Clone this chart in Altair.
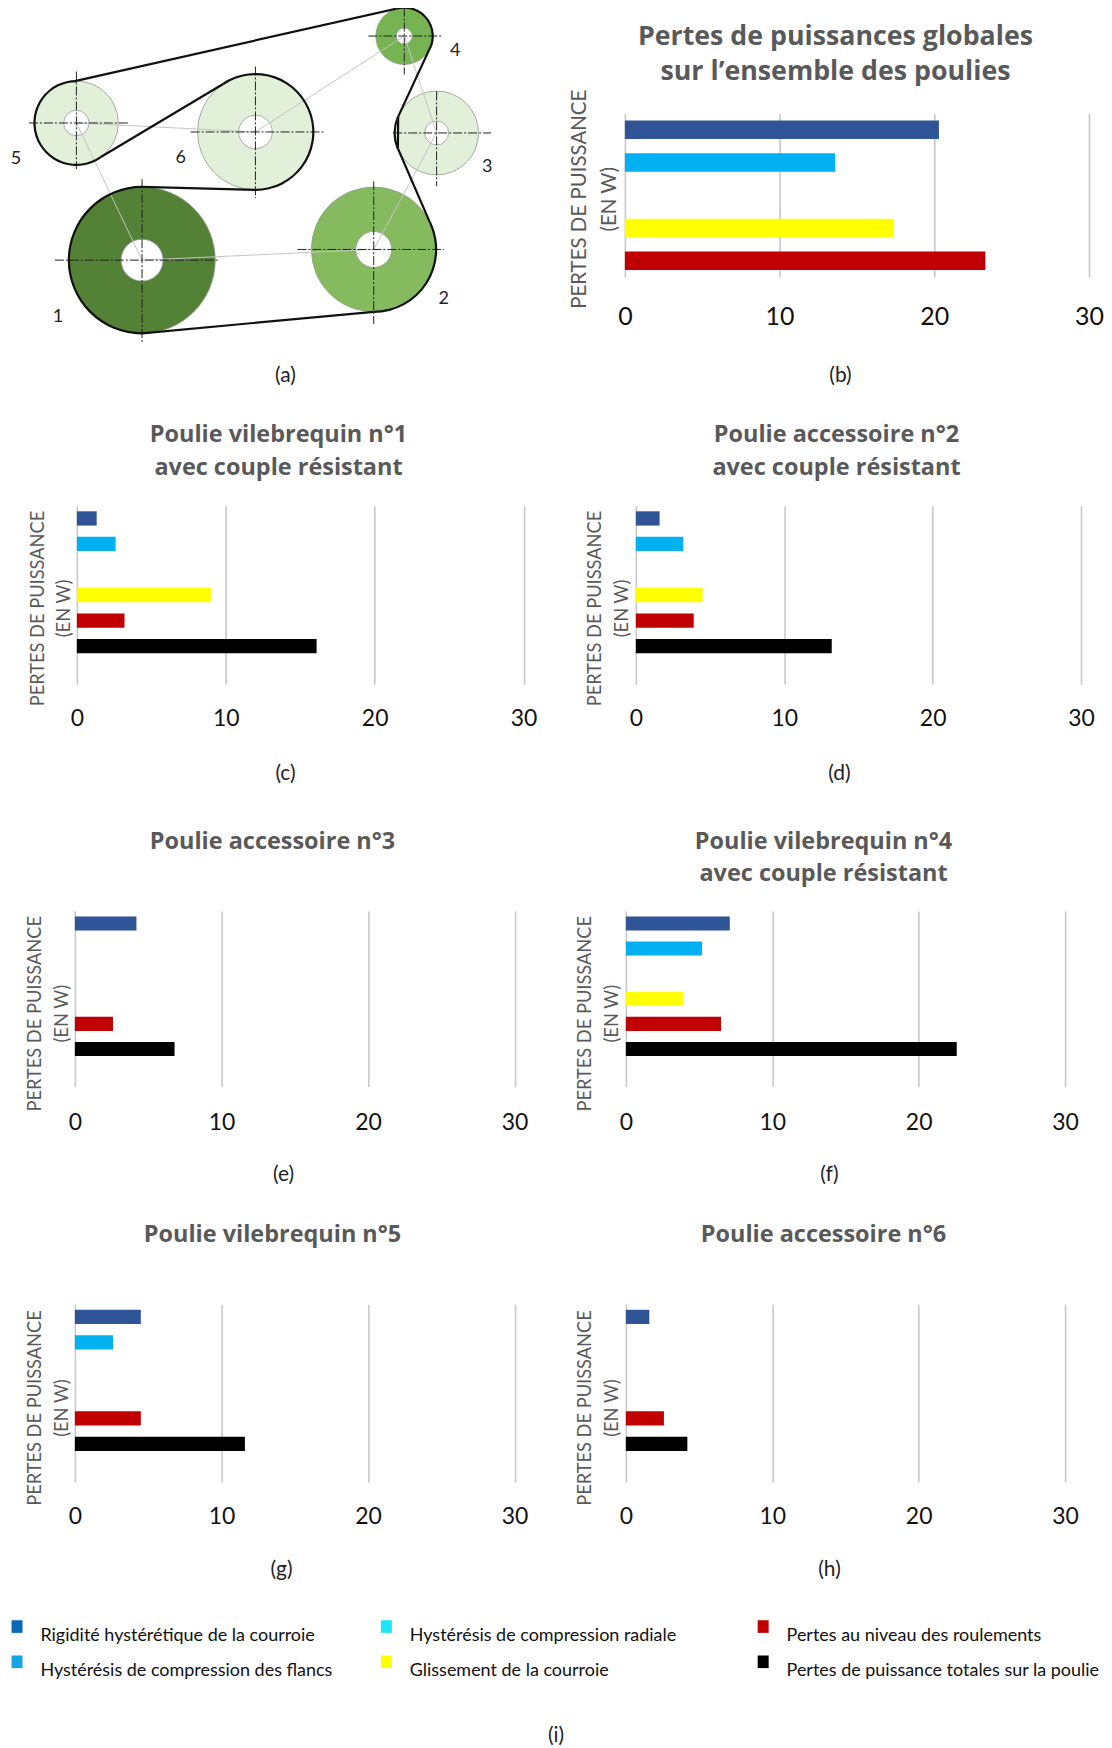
import altair as alt
import pandas as pd
import numpy as np

# ---------- data ----------
CATS = ["Rigidité hystérétique de la courroie", "Hystérésis de compression des flancs",
        "Hystérésis de compression radiale", "Glissement de la courroie",
        "Pertes au niveau des roulements", "Pertes de puissance totales sur la poulie"]
BAR_COLORS = ["#2F5597", "#00B0F0", "#1FE5F5", "#FFFF00", "#C00000", "#000000"]
LEG_COLORS = ["#0B69BA", "#16A5E3", "#1FE5F5", "#FFFF00", "#C00000", "#000000"]
VAL_B = [20.3, 13.6, None, 17.4, 23.3, None]
VAL_C = [1.33, 2.6, None, 9.0, 3.2, 16.1]
VAL_D = [1.6, 3.2, None, 4.5, 3.9, 13.2]
VAL_E = [4.2, None, None, None, 2.6, 6.8]
VAL_F = [7.1, 5.2, None, 3.9, 6.5, 22.6]
VAL_G = [4.5, 2.6, None, None, 4.5, 11.6]
VAL_H = [1.6, None, None, None, 2.6, 4.2]

P_ID = [1, 2, 3, 4, 5, 6]
P_X = [141.3, 373.4, 436.4, 404, 75.5, 254.9]
P_Y = [258, 247.3, 130.6, 33.5, 120.6, 129.6]
P_R = [73.3, 62.5, 42, 28.5, 42, 58]
P_H = [21, 18, 12, 8, 12.7, 16.8]
P_COL = ["#538135", "#85BB5E", "#E2EFD9", "#76B352", "#E2EFD9", "#E2EFD9"]
LBL_X = [57, 443.5, 487, 455, 15, 180]
LBL_Y = [315, 297, 165, 48, 157, 156]
HX1 = [54, 297, 393, 368, 28, 190]
HX2 = [219, 444, 491, 443, 128, 324]
VY1 = [177, 179, 89, 5, 69, 64]
VY2 = [342, 322, 184, 72, 167, 196]
B_X1 = [74, 428.9, 397.9, 397.6, 373.4, 141.3, 222.5]
B_Y1 = [78.6, 47.3, 114.2, 146.2, 309.8, 184.7, 81.5]
B_X2 = [396.1, 397.9, 397.6, 430, 141.3, 254.9, 99.6]
B_Y2 = [6.1, 114.2, 146.2, 220.9, 331.3, 187.6, 155]
A_P = [3, 2, 1, 0, 5, 4]
A_T1 = [-16, 248, 65, 180, -34, 145]
A_T2 = [119, 293, 180, 360, 180, 360]
LINK = [(0, 1), (1, 2), (2, 3), (3, 5), (5, 4), (4, 0)]

# ---------- panel (a) ----------
pull = pd.DataFrame(dict(id=P_ID, x=P_X, y=P_Y, r=P_R, h=P_H, c=P_COL, lx=LBL_X, ly=LBL_Y,
                         hx1=HX1, hx2=HX2, vy1=VY1, vy2=VY2))
pull["disc"] = (2 * pull.r) ** 2
pull["hole"] = (2 * pull.h) ** 2
LEFT_W, RIGHT_W, ORIGIN_X, RIGHT_X = 610, 480, 8, 618
X_A = alt.Scale(domain=[ORIGIN_X, RIGHT_X], range=[0, LEFT_W])
Y_A = alt.Scale(domain=[111, 504], range=[0, 393])
def X(f): return alt.X(f, type="quantitative", scale=X_A, axis=None)
def Y(f): return alt.Y(f, type="quantitative", scale=Y_A, axis=None)

discs = alt.Chart(pull).mark_circle(opacity=1, stroke="#8f9a88", strokeWidth=0.8).encode(
    x=X("x"), y=Y("y"), size=alt.Size("disc:Q", scale=None),
    color=alt.Color("c:N", scale=None))
holes = alt.Chart(pull).mark_circle(opacity=1, color="white", stroke="#9a9a9a", strokeWidth=0.8).encode(
    x=X("x"), y=Y("y"), size=alt.Size("hole:Q", scale=None))
links = alt.Chart(pd.DataFrame({
    "x": [P_X[a] for a, b in LINK], "y": [P_Y[a] for a, b in LINK],
    "x2": [P_X[b] for a, b in LINK], "y2": [P_Y[b] for a, b in LINK]})).mark_rule(
    color="#c4c4c4", strokeWidth=1).encode(x=X("x"), y=Y("y"), x2="x2:Q", y2="y2:Q")
DASH = [9, 2, 2, 2]
hlines = alt.Chart(pull).mark_rule(color="#222222", strokeWidth=1, strokeDash=DASH).encode(
    x=X("hx1"), x2="hx2:Q", y=Y("y"))
vlines = alt.Chart(pull).mark_rule(color="#222222", strokeWidth=1, strokeDash=DASH).encode(
    x=X("x"), y=Y("vy1"), y2="vy2:Q")
strands = alt.Chart(pd.DataFrame(dict(x=B_X1, y=B_Y1, x2=B_X2, y2=B_Y2))).mark_rule(
    color="#111111", strokeWidth=2.2).encode(x=X("x"), y=Y("y"), x2="x2:Q", y2="y2:Q")
arcs_df = pd.DataFrame(dict(
    x=[P_X[i] for i in A_P], y=[P_Y[i] for i in A_P],
    ro=[P_R[i] + 1.1 for i in A_P], ri=[P_R[i] - 1.1 for i in A_P],
    t1=np.radians(A_T1), t2=np.radians(A_T2)))
belt_arcs = alt.Chart(arcs_df).mark_arc(fill="#111111").encode(
    x=X("x"), y=Y("y"),
    radius=alt.Radius("ro:Q", scale=None), radius2="ri:Q",
    theta=alt.Theta("t1:Q", scale=None, stack=None), theta2="t2:Q")
nums = alt.Chart(pull).mark_text(font="Lato", fontSize=18, color="#222222").encode(
    x=X("lx"), y=Y("ly"), text="id:N")
cap_a = alt.Chart(pd.DataFrame(dict(x=[285], y=[374], t=["(a)"]))).mark_text(
    font="Lato", fontSize=21, color="#222222").encode(x=X("x"), y=Y("y"), text="t:N")
panel_a = alt.layer(discs, holes, links, hlines, vlines, strands, belt_arcs, nums, cap_a).properties(
    width=LEFT_W, height=393)

# ---------- bar panels ----------
def label(text, px, py, size, color, bold=False, angle=0):
    return alt.Chart(pd.DataFrame(dict(t=[text]))).mark_text(
        font="Open Sans" if bold else "Lato", fontSize=size, color=color, angle=angle,
        fontWeight="bold" if bold else "normal", align="center", baseline="middle").encode(
        x=alt.value(px), y=alt.value(py), text="t:N")

def bars(values, cats, title, caption, col, top, bottom, x0, x30, t_cx, t_ys,
         cap_x, cap_y, yt_x, yt_y, tick_size=23, tick_pad=23, title_size=23.5, yt_size=18.3):
    left = ORIGIN_X if col == 0 else RIGHT_X
    w = LEFT_W if col == 0 else RIGHT_W
    rows = [(c, v) for c, v in zip(CATS, values) if v is not None]
    df = pd.DataFrame(rows, columns=["cat", "val"])
    h = bottom - top
    base = alt.Chart(df).mark_bar().encode(
        x=alt.X("val:Q", scale=alt.Scale(domain=[0, 30], range=[x0 - left, x30 - left], nice=False),
                axis=alt.Axis(values=[0, 10, 20, 30], grid=True, gridColor="#C8C8C8", gridWidth=1.6,
                              ticks=False, domain=False, labelFont="Lato", labelFontSize=tick_size,
                              labelColor="#111111", labelPadding=tick_pad, labelFlush=False, labelAngle=0,
                              title=None)),
        y=alt.Y("cat:N", scale=alt.Scale(domain=cats, paddingInner=0.44, paddingOuter=0.22),
                axis=alt.Axis(labels=False, ticks=False, domain=False, grid=False, title=None)),
        color=alt.Color("cat:N", scale=alt.Scale(domain=CATS, range=BAR_COLORS), legend=None),
    )
    texts = [label(line, t_cx - left, y - top, title_size, "#595959", bold=True)
             for line, y in zip(title, t_ys)]
    texts.append(label("PERTES DE PUISSANCE", yt_x[0] - left, yt_y - top, yt_size, "#595959", angle=270))
    texts.append(label("(EN W)", yt_x[1] - left, yt_y - top, yt_size, "#595959", angle=270))
    texts.append(label(caption, cap_x - left, cap_y - top, 21, "#222222"))
    return alt.layer(base, *texts).properties(width=w, height=h)

C7 = CATS + [" "]
panel_b = bars(VAL_B, CATS[:5], ["Pertes  de puissances globales", "sur l’ensemble des poulies"], "(b)", 1,
               111, 275, 625, 1090, 836, [34, 69.5], 841, 374, (580, 610), 197,
               tick_size=25, tick_pad=27, title_size=26.8, yt_size=20.5)
panel_c = bars(VAL_C, C7, ["Poulie vilebrequin n°1", "avec couple résistant"], "(c)", 0,
               504, 683, 76, 523.5, 278, [433, 466], 285, 773, (38, 64), 607)
panel_d = bars(VAL_D, C7, ["Poulie accessoire n°2", "avec couple résistant"], "(d)", 1,
               504, 683, 636, 1082, 837, [433, 466], 840, 773, (596, 623), 607)
panel_e = bars(VAL_E, C7, ["Poulie accessoire n°3"], "(e)", 0,
               910, 1086, 74, 514.5, 272, [841], 283, 1175, (35, 62), 1013, tick_pad=24.5)
panel_f = bars(VAL_F, C7, ["Poulie vilebrequin n°4", "avec couple résistant"], "(f)", 1,
               910, 1086, 626, 1066, 824, [841, 873], 830, 1175, (586, 613), 1013, tick_pad=24.5)
panel_g = bars(VAL_G, C7, ["Poulie vilebrequin n°5"], "(g)", 0,
               1304, 1482, 74, 514.5, 272, [1235], 281, 1570, (35, 62), 1408, tick_pad=23.5)
panel_h = bars(VAL_H, C7, ["Poulie accessoire n°6"], "(h)", 1,
               1304, 1482, 626, 1066, 824, [1235], 830, 1570, (586, 613), 1408, tick_pad=23.5)

# ---------- legend row ----------
SWATCH = "M-1.45,-1.4 H-0.45 V-0.25 H-1.45 Z"
def legend_col(idx, lx):
    names = [CATS[i] for i in idx]
    cols = [LEG_COLORS[i] for i in idx]
    return alt.Chart(pd.DataFrame(dict(n=names))).mark_point(filled=True, opacity=0, size=1).encode(
        x=alt.value(0), y=alt.value(0),
        color=alt.Color("n:N", scale=alt.Scale(domain=names, range=cols), legend=alt.Legend(
            title=None, orient="none", legendX=lx, legendY=11, direction="vertical", columns=1,
            symbolType=SWATCH, symbolSize=484, symbolOpacity=1, symbolStrokeWidth=0,
            labelFont="Lato", labelFontSize=18, labelColor="#111111", labelLimit=500,
            labelOffset=2, rowPadding=10.3)))
cap_i = alt.Chart(pd.DataFrame(dict(t=["(i)"]))).mark_text(font="Lato", fontSize=21, color="#222222").encode(
    x=alt.value(548), y=alt.value(123), text="t:N")
legend_row = alt.layer(legend_col([0, 1], 7.5), legend_col([2, 3], 377.5), legend_col([4, 5], 755), cap_i
                       ).resolve_scale(color="independent").properties(width=LEFT_W, height=30)

# ---------- grid ----------
def spacer(h):
    return alt.Chart(pd.DataFrame(dict(a=[0]))).mark_point(opacity=0).encode(
        x=alt.value(0), y=alt.value(0)).properties(width=1, height=h)
blank = alt.Chart(pd.DataFrame(dict(a=[0]))).mark_point(opacity=0).encode(
    x=alt.value(0), y=alt.value(0)).properties(width=RIGHT_W, height=10)

chart = alt.concat(
    panel_a, panel_b, spacer(393),
    panel_c, panel_d, spacer(406),
    panel_e, panel_f, spacer(394),
    panel_g, panel_h, spacer(310),
    legend_row, blank, spacer(125),
    columns=3, spacing=0, bounds="flush", align="each",
).configure_view(stroke=None).properties(
    padding={"left": 0, "top": -4, "right": 0, "bottom": 0}, background="white")

chart.save("out.html", embed_options={"renderer": "svg", "actions": False})
